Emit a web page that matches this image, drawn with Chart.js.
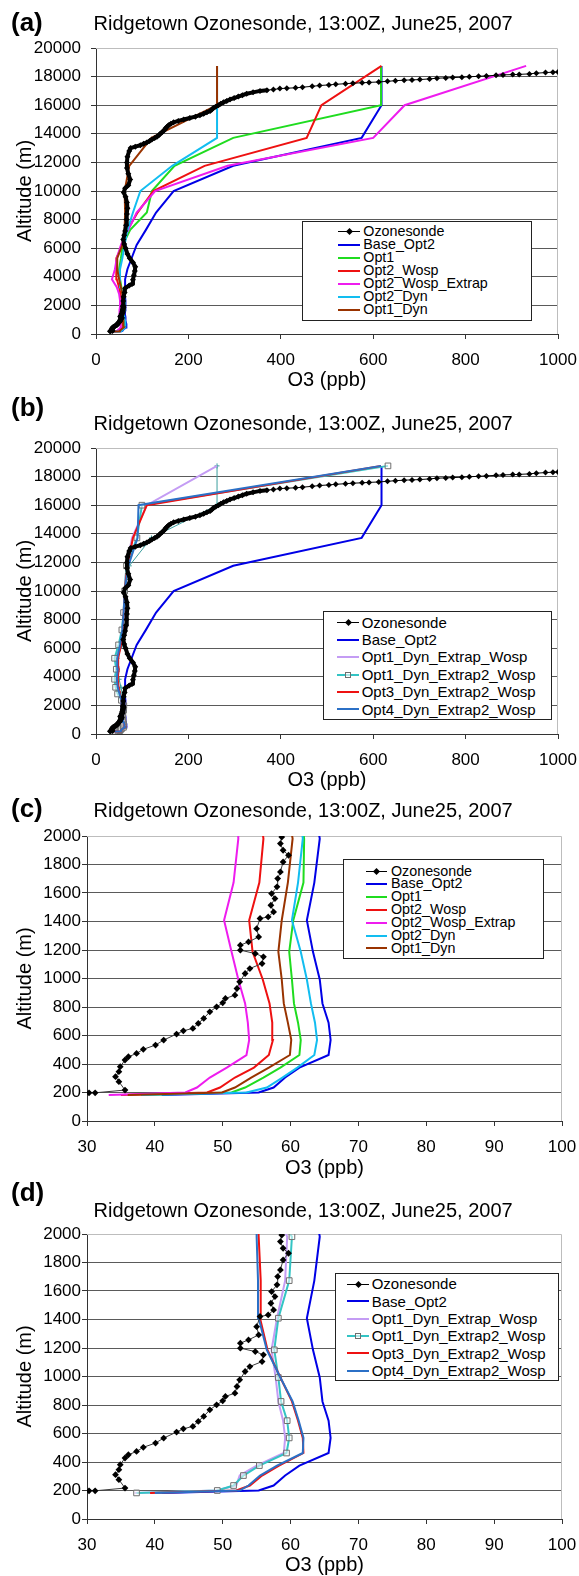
<!DOCTYPE html>
<html>
<head>
<meta charset="utf-8">
<script src="https://cdn.jsdelivr.net/npm/chart.js@4.4.0/dist/chart.umd.min.js"></script>
<style>
  html, body { margin: 0; padding: 0; background: #fff; }
  body { width: 579px; height: 1576px; position: relative; overflow: hidden;
         font-family: "Liberation Sans", Arial, sans-serif; color: #000; }
  canvas { position: absolute; left: 0; z-index: 0; }
  .abs { position: absolute; white-space: nowrap; z-index: 2; }
  .letter { font-weight: bold; font-size: 26px; line-height: 26px; }
  .title { font-size: 20px; line-height: 20px; }
  .legend { position: absolute; background: #fff; border: 1px solid #222; box-sizing: border-box; z-index: 1; }
</style>
</head>
<body>
<script>
// model level heights (m), same for every model run
const modelAlt = [183, 200, 235, 305, 375, 463, 569, 690, 825, 993, 1187, 1409, 1673, 1981,
  2360, 2800, 3267, 3827, 4527, 5298, 6230, 7280, 8493, 10000, 11760, 13715, 16000, 18750];

// O3 (ppb) at each model level
const baseOpt2 = [41, 55.3, 57.5, 59.2, 61.3, 65.6, 65.9, 65.6, 64.7, 64.3, 63.3, 62.4, 63.5, 64.3,
  63, 62, 63, 63, 68, 77, 88, 108, 130, 168, 297, 575, 618, 618];
const opt1 = [38, 51.3, 53.3, 56.0, 58.5, 61.3, 61.5, 61.1, 60.5, 60.2, 59.8, 60.4, 61.9, 62.0,
  61, 58, 55, 52, 50, 54, 58, 74, 110, 121, 170, 297, 617, 617];
const opt2Wosp = [35, 47.7, 49.6, 51.8, 54.6, 56.8, 57.4, 57.3, 56.9, 55.9, 54.4, 53.9, 55.4, 56.0,
  55, 53, 50, 45, 44, 44, 57, 68, 90, 124, 235, 456, 488, 618];
const opt2WospExtrap = [33.2, 44.5, 46.2, 48.1, 50.6, 53.5, 53.9, 53.7, 53.3, 52.3, 51.3, 50.2, 51.6, 52.3,
  52, 50, 45, 34.5, 41, 45, 54, 70, 88, 128, 285, 600, 668, 931];
const opt2Dyn = [38, 53.5, 56.5, 58.8, 61.0, 63.5, 63.9, 63.6, 63.0, 62.4, 61.5, 60.2, 61.1, 61.8,
  61, 58, 54, 52, 52, 57, 62, 68, 80, 96, 165, 262, 262, 262];
const opt1Dyn = [36, 49.9, 51.8, 54.2, 56.8, 59.9, 60.1, 59.6, 59.0, 58.7, 58.2, 58.7, 59.6, 60.3,
  59, 57, 54, 50, 46, 46, 57, 62, 63, 62, 72, 120, 262, 262];
const opt1DynExtrapWosp = [37, 49.0, 52.0, 52.5, 55.0, 59.0, 59.2, 58.9, 58.2, 57.8, 57.2, 58.0, 59.2, 59.5,
  56, 48, 44, 41, 45, 42, 50, 57, 61, 62, 66, 78, 110, 262];
const opt1DynExtrap2Wosp = [37.3, 49.2, 51.6, 53.05, 55.4, 59.4, 59.8, 59.5, 58.6, 58.2, 57.6, 58.2, 59.8, 60.2,
  55, 46.7, 42.4, 40.2, 43.9, 40.2, 48.9, 56, 59.7, 62, 66, 88.6, 99.4, 632];
const opt3DynExtrap2Wosp = [39.3, 52.0, 54.0, 55.8, 58.3, 61.9, 61.8, 61.1, 60.2, 58.5, 56.6, 55.5, 55.6, 55.3,
  55, 52, 49, 47, 49, 48, 54, 58, 60, 62, 68, 80, 110, 617];
const opt4DynExtrap2Wosp = [40, 52.5, 53.8, 55.5, 58.0, 61.8, 61.9, 61.2, 60.3, 58.5, 56.5, 55.3, 55.2, 55.0,
  55, 51, 47, 45, 47, 46, 52, 57, 60, 62, 70, 90, 92, 617];

// ozonesonde profile: altitude (m) and O3 (ppb)
const sondeAlt = [198, 198, 217, 276, 311, 346, 381, 428, 451, 474, 503, 533, 568, 610, 633, 650, 685, 720,
  766, 801, 829, 860, 883, 930, 977, 1035, 1070, 1105, 1152, 1175, 1199, 1234, 1257, 1292, 1350, 1421,
  1432, 1467, 1514, 1561, 1596, 1643, 1701, 1748, 1818, 1865, 1900, 1947, 1993,
  2300, 2600, 2900, 3200, 3400, 3500, 3800, 4100, 4400, 4700, 5000, 5300, 5600, 6000, 6300, 6600, 6900,
  7200, 7600, 8000, 8400, 8800, 9200, 9600, 9900, 10200, 10400, 10800, 11200, 11600, 12000, 12400, 12800,
  13000, 13100, 13200, 13300, 13400, 13500, 13600, 13700, 13800, 13900, 14000, 14100, 14200, 14300, 14400,
  14500, 14600, 14700, 14800, 14900, 15000, 15100, 15200, 15300, 15400, 15500, 15600, 15700, 15800, 15900,
  16000, 16100, 16200, 16300, 16400, 16500, 16600, 16700, 16800, 16900, 17000, 17050, 17100,
  17160, 17190, 17215, 17260, 17320, 17375, 17420, 17460, 17505, 17540, 17565, 17595, 17625, 17670, 17715,
  17750, 17770, 17790, 17840, 17890, 17910, 17930, 17960, 17990, 18020, 18050, 18090, 18120, 18140, 18155,
  18190, 18240, 18280, 18310, 18330];
const sondeO3 = [30.3, 31.2, 35.6, 34.7, 34.2, 34.7, 34.9, 35.6, 36.1, 37.3, 38.3, 40.1, 41.3, 43.2, 44.2, 45.6, 46.4, 47.2,
  48.1, 49.1, 50.0, 50.4, 51.8, 52.1, 52.5, 53.3, 54.0, 55.8, 56.0, 54.8, 52.6, 52.6, 53.8, 55.3, 55.0, 55.5,
  56.7, 57.5, 57.1, 57.7, 57.2, 58.0, 58.1, 58.5, 58.9, 59.7, 58.9, 58.5, 58.7,
  59, 60, 62, 63, 72, 78, 80, 82, 84, 85, 80, 73, 68, 64, 61, 59, 61,
  63, 65, 66, 67, 68, 67, 64, 60, 63, 70, 74, 70, 67, 67, 68, 72,
  75, 85, 96, 103, 110, 116, 121, 127, 132, 136, 139, 143, 146, 149, 151,
  154, 157, 162, 168, 178, 190, 203, 215, 225, 233, 240, 247, 251, 254, 259,
  265, 270, 276, 283, 290, 299, 308, 317, 326, 340, 355, 370, 384,
  398, 413, 432, 447, 468, 484, 504, 519, 540, 556, 576, 591, 612, 631, 648,
  667, 684, 701, 722, 738, 757, 772, 792, 808, 828, 845, 866, 881, 902, 916,
  938, 953, 973, 989, 1000];

// axis ranges
const altHigh = { min: 0, max: 20000, step: 2000 };
const altLow = { min: 0, max: 2000, step: 200 };
const o3Wide = { min: 0, max: 1000, step: 200 };
const o3Narrow = { min: 30, max: 100, step: 10 };

const legendA = ['Ozonesonde', 'Base_Opt2', 'Opt1', 'Opt2_Wosp', 'Opt2_Wosp_Extrap', 'Opt2_Dyn', 'Opt1_Dyn'];
const legendB = ['Ozonesonde', 'Base_Opt2', 'Opt1_Dyn_Extrap_Wosp', 'Opt1_Dyn_Extrap2_Wosp',
  'Opt3_Dyn_Extrap2_Wosp', 'Opt4_Dyn_Extrap2_Wosp'];
const chartTitle = 'Ridgetown Ozonesonde, 13:00Z, June25, 2007';

const colors = {
  'Ozonesonde': '#000000',
  'Base_Opt2': '#0000e6',
  'Opt1': '#1fdc1f',
  'Opt2_Wosp': '#ee1111',
  'Opt2_Wosp_Extrap': '#ee1cee',
  'Opt2_Dyn': '#12bdf0',
  'Opt1_Dyn': '#993300',
  'Opt1_Dyn_Extrap_Wosp': '#c49cf4',
  'Opt1_Dyn_Extrap2_Wosp': '#33c4c4',
  'Opt3_Dyn_Extrap2_Wosp': '#ee1111',
  'Opt4_Dyn_Extrap2_Wosp': '#2b70c6'
};

Chart.defaults.font.family = '"Liberation Sans", Arial, sans-serif';
Chart.defaults.color = '#000';

// light grey frame on top and right of the plot area
const plotFrame = {
  id: 'plotFrame',
  beforeDatasetsDraw(chart) {
    const a = chart.chartArea, c = chart.ctx;
    c.save();
    c.strokeStyle = '#bdbdbd';
    c.lineWidth = 1;
    c.beginPath();
    c.moveTo(a.left, Math.round(a.top) + 0.5);
    c.lineTo(Math.round(a.right) - 0.5, Math.round(a.top) + 0.5);
    c.lineTo(Math.round(a.right) - 0.5, a.bottom);
    c.stroke();
    c.restore();
  }
};

function model(name, vals, order, extra) {
  return Object.assign({
    label: name,
    data: modelAlt.map((a, i) => ({ x: vals[i], y: a })),
    showLine: true,
    borderColor: colors[name],
    backgroundColor: colors[name],
    borderWidth: 2,
    pointRadius: 0,
    tension: 0,
    order: order
  }, extra || {});
}

function sonde(thick) {
  const ds = {
    label: 'Ozonesonde',
    data: sondeAlt.map((a, i) => ({ x: sondeO3[i], y: a })),
    showLine: true,
    borderColor: thick ? '#000' : '#3a3a3a',
    borderWidth: 1,
    borderJoinStyle: 'round',
    borderCapStyle: 'round',
    pointStyle: 'rectRot',
    pointRadius: thick ? 3 : 3.4,
    pointBackgroundColor: '#000',
    pointBorderColor: '#000',
    pointBorderWidth: 0,
    tension: 0,
    order: 0
  };
  if (thick) ds.segment = { borderWidth: ctx => (ctx.p1.parsed.y < 17100 ? 4 : 1) };
  return ds;
}

function setA() {
  return [
    sonde(true),
    model('Base_Opt2', baseOpt2, 6),
    model('Opt1', opt1, 5),
    model('Opt2_Wosp', opt2Wosp, 4),
    model('Opt2_Wosp_Extrap', opt2WospExtrap, 3),
    model('Opt2_Dyn', opt2Dyn, 2),
    model('Opt1_Dyn', opt1Dyn, 1)
  ];
}

function setB(withThin) {
  const sets = [
    sonde(withThin),
    model('Base_Opt2', baseOpt2, 5),
    model('Opt1_Dyn_Extrap_Wosp', opt1DynExtrapWosp, 4),
    model('Opt1_Dyn_Extrap2_Wosp', opt1DynExtrap2Wosp, 3, {
      pointStyle: 'rect', pointRadius: 4, pointBorderWidth: 1,
      pointBorderColor: '#6f6f6f', pointBackgroundColor: 'rgba(255,255,255,0.55)'
    }),
    model('Opt3_Dyn_Extrap2_Wosp', opt3DynExtrap2Wosp, 2),
    model('Opt4_Dyn_Extrap2_Wosp', opt4DynExtrap2Wosp, 1)
  ];
  if (withThin) {
    // unlabelled thin run shown in panel (b)
    sets.push(model('Opt1_Dyn', opt1Dyn, 7, {
      borderColor: '#3a9e9e', borderWidth: 1, pointStyle: 'cross',
      pointRadius: 2.5, pointBorderColor: '#3a9e9e', pointBorderWidth: 1
    }));
  }
  return sets;
}

const panels = [
  { letter: '(a)', letterTop: 9, titleTop: 13, top: 0, h: 395,
    pad: { left: 15, right: 21, top: 48, bottom: 5 }, yW: 81, xH: 56, yPad: 10,
    alt: altHigh, o3: o3Wide, datasets: setA(),
    legend: { names: legendA, box: [302, 221, 532, 321], y0: 231.7, step: 13.05, sx: [338, 360], tx: 363.3, fs: 14.3 } },
  { letter: '(b)', letterTop: 394, titleTop: 412.5, top: 390, h: 405,
    pad: { left: 15, right: 21, top: 58, bottom: 5 }, yW: 81, xH: 56, yPad: 10,
    alt: altHigh, o3: o3Wide, datasets: setB(true),
    legend: { names: legendB, box: [323, 611, 552, 720], y0: 622.3, step: 17.4, sx: [337, 359], tx: 361.7, fs: 15 } },
  { letter: '(c)', letterTop: 795, titleTop: 800, top: 795, h: 390,
    pad: { left: 15, right: 17, top: 41, bottom: 7 }, yW: 72, xH: 57, yPad: 1,
    alt: altLow, o3: o3Narrow, datasets: setA().map(d => (d.label === 'Ozonesonde' ? sonde(false) : d)),
    legend: { names: legendA, box: [343, 859, 544, 959], y0: 871, step: 12.9, sx: [366, 387], tx: 391, fs: 14.3 } },
  { letter: '(d)', letterTop: 1179, titleTop: 1199.5, top: 1185, h: 391,
    pad: { left: 15, right: 17, top: 49, bottom: 1 }, yW: 72, xH: 56, yPad: 1,
    alt: altLow, o3: o3Narrow, datasets: setB(false),
    legend: { names: legendB, box: [335, 1273, 559, 1381], y0: 1284, step: 17.35, sx: [347, 369], tx: 371.7, fs: 15 } }
];

function addText(cls, text, left, top) {
  const d = document.createElement('div');
  d.className = 'abs ' + cls;
  d.textContent = text;
  d.style.left = left + 'px';
  d.style.top = top + 'px';
  document.body.appendChild(d);
  return d;
}

function addLegend(lg) {
  const box = document.createElement('div');
  box.className = 'legend';
  box.style.left = lg.box[0] + 'px';
  box.style.top = lg.box[1] + 'px';
  box.style.width = (lg.box[2] - lg.box[0]) + 'px';
  box.style.height = (lg.box[3] - lg.box[1]) + 'px';
  document.body.appendChild(box);

  lg.names.forEach((name, i) => {
    const cy = lg.y0 + i * lg.step;
    const w = name === 'Ozonesonde' ? 1 : 2;
    const ln = document.createElement('div');
    ln.className = 'abs';
    ln.style.left = lg.sx[0] + 'px';
    ln.style.top = (cy - w / 2) + 'px';
    ln.style.width = (lg.sx[1] - lg.sx[0]) + 'px';
    ln.style.height = w + 'px';
    ln.style.background = colors[name];
    document.body.appendChild(ln);

    const mid = (lg.sx[0] + lg.sx[1]) / 2;
    if (name === 'Ozonesonde') {
      const m = document.createElement('div');
      m.className = 'abs';
      m.style.left = (mid - 2.5) + 'px';
      m.style.top = (cy - 2.5) + 'px';
      m.style.width = '5px';
      m.style.height = '5px';
      m.style.background = '#000';
      m.style.transform = 'rotate(45deg)';
      document.body.appendChild(m);
    } else if (name === 'Opt1_Dyn_Extrap2_Wosp') {
      const m = document.createElement('div');
      m.className = 'abs';
      m.style.left = (mid - 3) + 'px';
      m.style.top = (cy - 3) + 'px';
      m.style.width = '6px';
      m.style.height = '6px';
      m.style.boxSizing = 'border-box';
      m.style.border = '1px solid #6f6f6f';
      m.style.background = 'rgba(255,255,255,0.6)';
      document.body.appendChild(m);
    }
    const t = addText('', name, lg.tx, cy - lg.step / 2);
    t.style.fontSize = lg.fs + 'px';
    t.style.lineHeight = lg.step + 'px';
  });
}

panels.forEach(p => {
  const cv = document.createElement('canvas');
  cv.width = 579;
  cv.height = p.h;
  cv.style.top = p.top + 'px';
  document.body.appendChild(cv);

  addText('letter', p.letter, 11, p.letterTop);
  addText('title', chartTitle, 93.5, p.titleTop);

  const yMax = p.alt.max;
  new Chart(cv.getContext('2d'), {
    type: 'scatter',
    data: { datasets: p.datasets },
    options: {
      responsive: false,
      animation: false,
      devicePixelRatio: 1,
      events: [],
      layout: { padding: p.pad },
      plugins: { legend: { display: false }, tooltip: { enabled: false } },
      scales: {
        x: {
          type: 'linear',
          min: p.o3.min, max: p.o3.max,
          ticks: { stepSize: p.o3.step, padding: 11, font: { size: 17 }, color: '#000',
                   maxRotation: 0, autoSkip: false, callback: v => String(v) },
          grid: { drawOnChartArea: false, tickLength: 5, tickColor: '#333' },
          border: { color: '#333' },
          title: { display: true, text: 'O3 (ppb)', font: { size: 20, lineHeight: 1 }, padding: 0, color: '#000' },
          afterFit: s => { s.height = p.xH; s.paddingLeft = 0; s.paddingRight = 0; }
        },
        y: {
          type: 'linear',
          min: p.alt.min, max: yMax,
          ticks: { stepSize: p.alt.step, padding: p.yPad, font: { size: 17 }, color: '#000',
                   autoSkip: false, callback: v => String(v) },
          grid: {
            color: ctx => (ctx.tick && ctx.tick.value === yMax ? 'rgba(0,0,0,0)' : '#5a5a5a'),
            tickLength: 5, tickColor: '#333'
          },
          border: { color: '#333' },
          title: { display: true, text: 'Altitude (m)', font: { size: 20, lineHeight: 1 }, padding: 0, color: '#000' },
          afterFit: s => { s.width = p.yW; s.paddingTop = 0; s.paddingBottom = 0; }
        }
      }
    },
    plugins: [plotFrame]
  });

  addLegend(p.legend);
});
</script>
</body>
</html>
